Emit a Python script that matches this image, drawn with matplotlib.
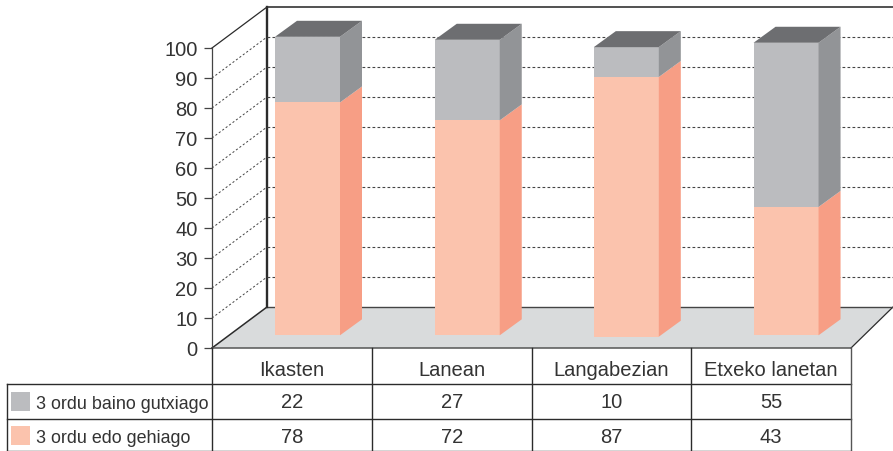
import matplotlib
matplotlib.use('Agg')
import matplotlib.pyplot as plt
from matplotlib.patches import Polygon

plt.rcParams['font.family'] = ['Liberation Sans', 'DejaVu Sans']

categories = ['Ikasten', 'Lanean', 'Langabezian', 'Etxeko lanetan']
less_than_3 = [22, 27, 10, 55]
three_or_more = [78, 72, 87, 43]
series_names = ['3 ordu baino gutxiago', '3 ordu edo gehiago']
y_ticks = list(range(0, 101, 10))

# 1 column = 159.75 px, 1 percent = 3 px
COL = 159.75
YPX = 3.0


def px(n):
    return n / COL


def py(n):
    return n / YPX


orange, orange_side = '#FBC3AD', '#F79E85'
grey, grey_side, grey_top = '#BBBCBF', '#929497', '#6D6E71'
floor_col = '#D9DBDC'
ink = '#2b2b2b'
text_col = '#333333'

fig = plt.figure(figsize=(8.93, 4.52), dpi=100)
ax = fig.add_axes([0, 0, 1, 1])
ax.set_xlim(px(-212), px(893 - 212))
ax.set_ylim(py(-103), py(349))
ax.patch.set_visible(False)

for s in ['top', 'right', 'bottom']:
    ax.spines[s].set_visible(False)
ax.spines['left'].set_position(('data', 0))
ax.spines['left'].set_bounds(0, 100)
ax.spines['left'].set_color('#444444')
ax.spines['left'].set_linewidth(0.9)
ax.set_xticks([])
ax.set_yticks(y_ticks)
ax.tick_params(axis='y', length=5.5, width=0.9, color='#444444', pad=5,
               labelsize=14.5, labelcolor=text_col)

# depth of the box
dep_x, dep_y = px(55), py(41)
n = len(categories)

# floor
ax.add_patch(Polygon([(0, 0), (n, 0), (n + px(42), dep_y), (dep_x, dep_y)],
                     fc=floor_col, ec='none', zorder=1))
ax.plot([0, dep_x], [0, dep_y], color=ink, lw=1.1, zorder=2)
ax.plot([n, n + px(42)], [0, dep_y], color=ink, lw=0.9, zorder=2)
ax.plot([dep_x, n + px(42)], [dep_y, dep_y], color='#444444', lw=1.0, zorder=2)
ax.plot([0, n], [0, 0], color='#555555', lw=1.1, zorder=2)

# back wall and side wall
ax.plot([dep_x, dep_x], [dep_y, 100 + dep_y], color=ink, lw=1.7, zorder=2)
ax.plot([0, dep_x], [100, 100 + dep_y], color=ink, lw=0.9, zorder=2)
ax.plot([dep_x, n + px(42)], [100 + dep_y, 100 + dep_y], color='#333333', lw=1.2, zorder=2)
for v in y_ticks[1:-1]:
    ax.plot([0, dep_x], [v, v + dep_y], color='#444444', lw=0.7,
            dashes=(2.2, 2.2), zorder=2)
    ax.plot([dep_x, n + px(42)], [v + dep_y, v + dep_y], color='#444444', lw=0.8,
            dashes=(2.5, 2.0), zorder=2)

# bars
bar_off = [px(63), px(63), px(62.3), px(62.3)]
bar_lift = [py(12.7), py(12.7), py(11.3), py(12.7)]
bar_w = px(65)
side_x, side_y = px(22), py(16)
bar_scale = 0.995


def box(x, y0, y1, front, side):
    ax.add_patch(Polygon([(x, y0), (x + bar_w, y0), (x + bar_w, y1), (x, y1)],
                         fc=front, ec='none', zorder=4))
    ax.add_patch(Polygon([(x + bar_w, y0), (x + bar_w + side_x, y0 + side_y),
                          (x + bar_w + side_x, y1 + side_y), (x + bar_w, y1)],
                         fc=side, ec='none', zorder=4))


for i in range(n):
    x = i + bar_off[i]
    y0 = bar_lift[i]
    y1 = y0 + three_or_more[i] * bar_scale
    y2 = y1 + less_than_3[i] * bar_scale
    box(x, y0, y1, orange, orange_side)
    box(x, y1, y2, grey, grey_side)
    ax.add_patch(Polygon([(x, y2), (x + bar_w, y2),
                          (x + bar_w + side_x, y2 + side_y), (x + side_x, y2 + side_y)],
                         fc=grey_top, ec='none', zorder=4))

# data table under the chart
row1, row2, row3 = py(-35.5), py(-71), py(-103)
table_left = px(-205)
ax.plot([table_left, n], [row1, row1], color=ink, lw=1.0, zorder=5)
ax.plot([table_left, n], [row2, row2], color=ink, lw=1.0, zorder=5)
ax.plot([table_left, n], [row3 + py(0.5), row3 + py(0.5)], color=ink, lw=1.0, zorder=5)
ax.plot([table_left, table_left], [row1, row3], color=ink, lw=1.0, zorder=5)
for i in range(n + 1):
    ax.plot([i, i], [0, row3], color=ink if i < n else '#555555', lw=1.0, zorder=5)

for i in range(n):
    ax.text(i + 0.5, py(-27.5), categories[i], ha='center', va='baseline',
            fontsize=14.5, color=text_col)
    ax.text(i + 0.5, py(-59), str(less_than_3[i]), ha='center', va='baseline',
            fontsize=14.5, color=text_col)
    ax.text(i + 0.5, py(-94), str(three_or_more[i]), ha='center', va='baseline',
            fontsize=14.5, color=text_col)

# legend keys sit in the table
for name, col, yc, yb in zip(series_names, [grey, orange],
                             [py(-53.3), py(-87.3)], [py(-60.5), py(-94.5)]):
    ax.add_patch(Polygon([(px(-201), yc - py(9.5)), (px(-182), yc - py(9.5)),
                          (px(-182), yc + py(9.5)), (px(-201), yc + py(9.5))],
                         fc=col, ec='none', zorder=5))
    ax.text(px(-176), yb, name, ha='left', va='baseline', fontsize=12.9,
            color=text_col)

fig.savefig('out.png', dpi=100)
